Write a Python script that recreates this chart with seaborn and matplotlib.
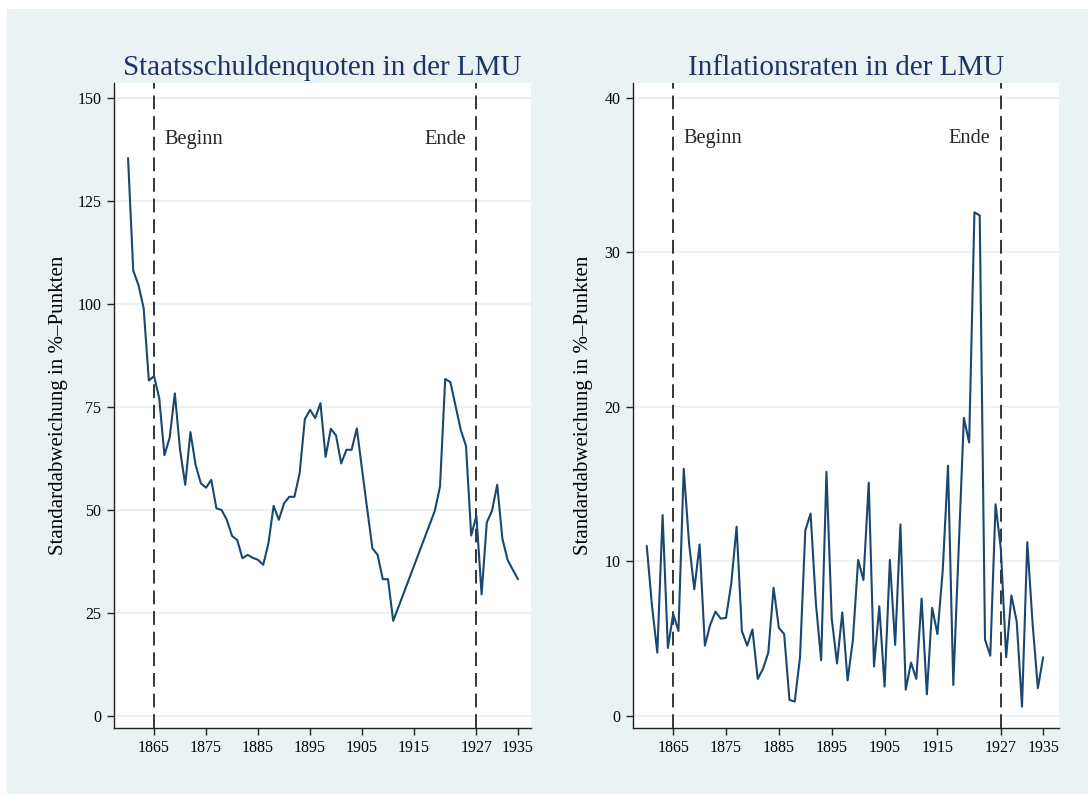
import numpy as np
import pandas as pd
import matplotlib
matplotlib.use("Agg")
import matplotlib.pyplot as plt
from matplotlib.patches import Rectangle
import seaborn as sns

# Staatsschuldenquoten (Std.-Abw. in %-Punkten), Luecke 1912-1918
debt_years = list(range(1860, 1912)) + list(range(1919, 1936))
debt_sd = [135.4, 108.1, 104.6, 99.0, 81.4, 82.5, 77.1, 63.3, 67.5, 78.3,
           64.6, 56.1, 68.9, 60.9, 56.5, 55.4, 57.3, 50.4, 50.0, 47.6,
           43.7, 42.7, 38.3, 39.1, 38.4, 37.9, 36.7, 41.9, 51.0, 47.6,
           51.6, 53.2, 53.2, 58.9, 72.0, 74.3, 72.3, 75.9, 62.9, 69.7,
           68.1, 61.3, 64.6, 64.6, 69.8, 59.9, 50.2, 40.7, 39.1, 33.2,
           33.2, 23.1,
           49.8, 55.7, 81.8, 81.0, 75.2, 69.4, 65.5, 43.8, 48.6, 29.5,
           47.0, 49.8, 56.1, 43.0, 37.9, 35.5, 33.2]

# Inflationsraten (Std.-Abw. in %-Punkten), 1919 fehlt
infl_years = list(range(1860, 1919)) + list(range(1920, 1936))
infl_sd = [11.0, 7.1, 4.1, 13.0, 4.4, 6.6, 5.5, 16.0, 11.2, 8.2,
           11.1, 4.55, 5.9, 6.75, 6.3, 6.35, 8.6, 12.25, 5.5, 4.55,
           5.6, 2.4, 3.05, 4.1, 8.3, 5.7, 5.3, 1.04, 0.93, 3.8,
           12.0, 13.1, 7.3, 3.6, 15.8, 6.3, 3.4, 6.7, 2.3, 4.9,
           10.1, 8.8, 15.1, 3.2, 7.1, 1.9, 10.1, 4.6, 12.4, 1.7,
           3.45, 2.4, 7.6, 1.4, 7.0, 5.3, 9.4, 16.2, 2.0,
           19.3, 17.7, 32.6, 32.4, 4.95, 3.9, 13.7, 10.8, 3.8, 7.8,
           6.1, 0.6, 11.25, 6.0, 1.8, 3.8]

x_ticks = [1865, 1875, 1885, 1895, 1905, 1915, 1927, 1935]
debt_yticks = [0, 25, 50, 75, 100, 125, 150]
infl_yticks = [0, 10, 20, 30, 40]
titles = ["Staatsschuldenquoten in der LMU", "Inflationsraten in der LMU"]
ylabel = "Standardabweichung in %\u2013Punkten"

BG = "#EAF2F3"
LINE = "#1A476F"
TITLE = "#1C3563"

sns.set_style("white")
plt.rcParams["font.family"] = ["Liberation Serif", "DejaVu Serif"]

fig = plt.figure(figsize=(10.88, 7.94), dpi=100)
fig.patch.set_facecolor("white")
fig.patches.append(Rectangle((7 / 1088, 0), 1, 785 / 794, transform=fig.transFigure,
                             facecolor=BG, edgecolor="none", zorder=-10))

ax1 = fig.add_axes([114 / 1088, 66 / 794, 417 / 1088, 645 / 794])
ax2 = fig.add_axes([633 / 1088, 66 / 794, 426 / 1088, 645 / 794])

df_debt = pd.DataFrame({"Jahr": debt_years, "sd": debt_sd})
df_infl = pd.DataFrame({"Jahr": infl_years, "sd": infl_sd})

setups = [
    (ax1, df_debt, debt_yticks, (-2.9, 153.6), 140.0, (1857.3, 1937.5), -0.110),
    (ax2, df_infl, infl_yticks, (-0.78, 40.97), 37.35, (1857.4, 1938.0), -0.094),
]

for i, (ax, df, yt, ylim, ytxt, xlim, lab_x) in enumerate(setups):
    ax.set_facecolor("white")
    for y in yt:
        ax.axhline(y, color=BG, lw=1.6, zorder=0)
    sns.lineplot(data=df, x="Jahr", y="sd", ax=ax, color=LINE, linewidth=1.5, zorder=3)
    for xv in (1865, 1927):
        ax.axvline(xv, color="black", lw=1.1, dashes=(9, 4.5), zorder=2)
    ax.text(1867, ytxt, "Beginn", fontsize=14.7, va="center", ha="left")
    ax.text(1925, ytxt, "Ende", fontsize=14.7, va="center", ha="right")

    ax.set_xlim(*xlim)
    ax.set_ylim(*ylim)
    ax.set_xticks(x_ticks)
    ax.set_yticks(yt)
    ax.tick_params(axis="both", direction="out", length=5, width=1,
                   labelsize=11.5, color="#222222", labelcolor="black", pad=4,
                   left=True, bottom=True)
    for s in ("top", "right"):
        ax.spines[s].set_visible(False)
    for s in ("left", "bottom"):
        ax.spines[s].set_color("#222222")
        ax.spines[s].set_linewidth(1)
    ax.set_xlabel("")
    ax.set_ylabel(ylabel, fontsize=15, color="black")
    ax.yaxis.set_label_coords(lab_x, 0.5)
    ax.set_title(titles[i], fontsize=21, color=TITLE, pad=6)

fig.savefig("out.png", dpi=100, facecolor=fig.get_facecolor())
